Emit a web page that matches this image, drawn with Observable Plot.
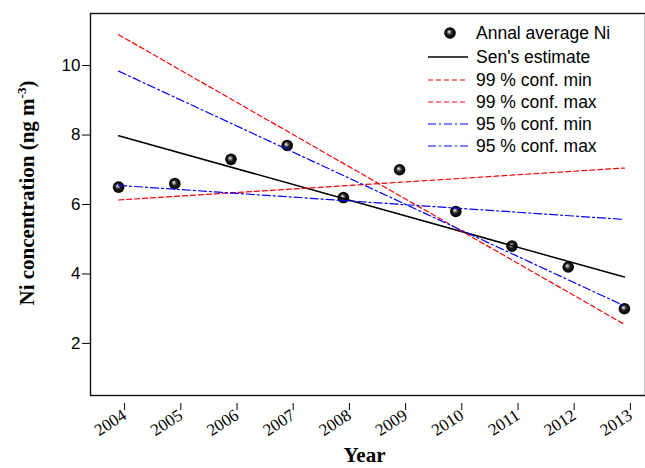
<!DOCTYPE html>
<html><head><meta charset="utf-8">
<script src="https://cdn.jsdelivr.net/npm/d3@7"></script>
<script src="https://cdn.jsdelivr.net/npm/@observablehq/plot@0.6"></script>
<style>body{margin:0;overflow:hidden;background:#fff}</style>
</head><body><div id="chart"></div>
<script>
const years = [2004, 2005, 2006, 2007, 2008, 2009, 2010, 2011, 2012, 2013];
const niValues = [6.5, 6.6, 7.3, 7.7, 6.2, 7.0, 5.8, 4.8, 4.2, 3.0];
const pointLabel = "Annal average Ni";
const trendNames = ["Sen's estimate", "99 % conf. min", "99 % conf. max", "95 % conf. min", "95 % conf. max"];
const trendAt2004 = [7.98, 10.89, 6.13, 9.84, 6.55];
const trendAt2013 = [3.91, 2.55, 7.05, 3.08, 5.57];
const trendColors = ["#000000", "#ff0000", "#ff0000", "#0000ff", "#0000ff"];
const trendDash = [null, "5,3", "5,3", "8,3,2,3", "8,3,2,3"];
const trendWidth = [1.5, 1.2, 1.2, 1.2, 1.2];
const yTicks = [2, 4, 6, 8, 10];
const xTitle = "Year";

const points = years.map((year, i) => ({year, value: niValues[i]}));
const first = years[0], last = years[years.length - 1];

const marks = [];
marks.push(Plot.dot(points, {x: "year", y: "value", r: 5.8, fill: "url(#sphere)", stroke: "none"}));
trendNames.forEach((name, i) => {
  const rows = [{year: first, value: trendAt2004[i]}, {year: last, value: trendAt2013[i]}];
  marks.push(Plot.line(rows, {x: "year", y: "value", stroke: trendColors[i], strokeWidth: trendWidth[i], strokeDasharray: trendDash[i]}));
});
marks.push(Plot.frame({stroke: "#111", strokeWidth: 1.4}));
marks.push(Plot.axisX({ticks: years, tickFormat: d => String(d), tickSize: 7, tickPadding: 3, tickRotate: -33, dx: 6, dy: 8, fontFamily: "Liberation Serif", fontSize: 17, label: null}));
marks.push(Plot.axisY({ticks: yTicks, tickSize: 8, tickPadding: 2, fontFamily: "Liberation Sans", fontSize: 17, label: null}));

const plot = Plot.plot({
  width: 645, height: 468,
  marginTop: 13, marginBottom: 73, marginLeft: 90, marginRight: 0,
  style: {background: "#fff", color: "#000", overflow: "hidden"},
  x: {domain: [2003.5, 2013.5], range: [90, 652]},
  y: {domain: [0.5, 11.5]},
  marks
});
document.getElementById("chart").appendChild(plot);

const svg = d3.select(plot);
const defs = svg.insert("defs", ":first-child");
const g = defs.append("radialGradient").attr("id", "sphere").attr("cx", "50%").attr("cy", "50%").attr("r", "50%").attr("fx", "40%").attr("fy", "38%");
g.append("stop").attr("offset", "0%").attr("stop-color", "#ffffff");
g.append("stop").attr("offset", "20%").attr("stop-color", "#999");
g.append("stop").attr("offset", "50%").attr("stop-color", "#1a1a1a");
g.append("stop").attr("offset", "100%").attr("stop-color", "#000");

// Axis titles
const yt = svg.append("text").attr("transform", "translate(34,193) rotate(-90)")
  .attr("text-anchor", "middle").attr("font-family", "Liberation Serif").attr("font-weight", "bold").attr("font-size", 21).attr("fill", "#000");
yt.append("tspan").text("Ni concentration (ng m");
yt.append("tspan").attr("dy", -8).attr("font-size", 13).text("-3");
yt.append("tspan").attr("dy", 8).text(")");
svg.append("text").attr("x", 364.5).attr("y", 462).attr("text-anchor", "middle")
  .attr("font-family", "Liberation Serif").attr("font-weight", "bold").attr("font-size", 21).attr("fill", "#000").text(xTitle);

// Legend
const leg = svg.append("g").attr("font-family", "Liberation Sans").attr("font-size", 17.5).attr("text-anchor", "start");
const rowY = [33, 57, 80, 102, 124, 146];
leg.append("circle").attr("cx", 450).attr("cy", rowY[0]).attr("r", 5.8).attr("fill", "url(#sphere)");
leg.append("text").attr("x", 476).attr("y", rowY[0] + 6).style("fill", "#000").text(pointLabel);
trendNames.forEach((name, i) => {
  const y = rowY[i + 1];
  const ln = leg.append("line").attr("x1", 428).attr("x2", 468).attr("y1", y).attr("y2", y)
    .style("stroke", trendColors[i]).style("stroke-width", trendWidth[i]);
  if (trendDash[i]) ln.style("stroke-dasharray", trendDash[i]);
  leg.append("text").attr("x", 476).attr("y", y + 6).style("fill", "#000").text(name);
});
</script>
</body></html>
